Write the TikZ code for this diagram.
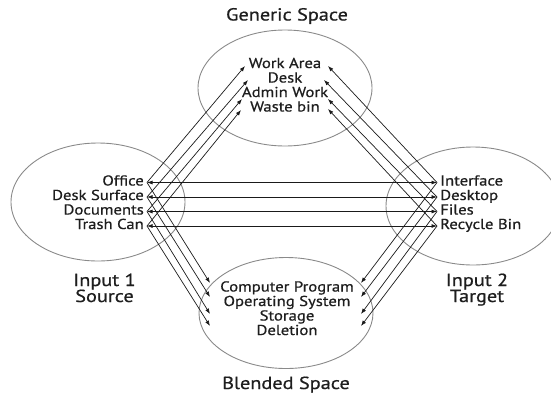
\documentclass[tikz,border=0pt]{standalone}
\usepackage{fontspec}
\setmainfont{PT Sans}[FakeStretch=1.16,FakeBold=0.7]
\usetikzlibrary{arrows.meta}

\definecolor{ink}{HTML}{1E1E1E}
\definecolor{wire}{HTML}{1A1A1A}
\definecolor{rim}{HTML}{8A8A8A}

\begin{document}
\begin{tikzpicture}[x=1pt,y=-1pt,
  space/.style={draw=rim,line width=0.9pt},
  item/.style={text=ink,inner ysep=0pt,inner xsep=3pt,text height=0.7em,text depth=0.1em,
               font=\fontsize{14.4}{14.4}\selectfont},
  mid/.style={text=ink,inner sep=0pt,anchor=base,font=\fontsize{14.4}{14.4}\selectfont},
  head/.style={text=ink,inner sep=0pt,anchor=base,font=\fontsize{17.5}{17.5}\selectfont},
  map/.style={draw=wire,line width=0.7pt,-{Latex[length=5.5pt,width=4pt]}},
  both/.style={draw=wire,line width=0.7pt,{Latex[length=5.5pt,width=4pt]}-{Latex[length=5.5pt,width=4pt]}}]

\useasboundingbox (0,0) rectangle (551,394);
\clip (0,0) rectangle (551,394);

% the four mental spaces
\draw[space] (285,88) ellipse [x radius=87,y radius=58];
\draw[space] (98,202) ellipse [x radius=87,y radius=59];
\draw[space] (473,206) ellipse [x radius=87,y radius=59];
\draw[space] (286,313) ellipse [x radius=87,y radius=55.5];

% space titles
\node[head] (generic) at (287,20.5) {Generic Space};
\node[head] (in1) at (104.5,286) {Input 1};
\node[head] (src) at (104.5,302) {Source};
\node[head] (in2) at (477,286) {Input 2};
\node[head] (tgt) at (477,302) {Target};
\node[head] (blend) at (286,389) {Blended Space};

% input 1 (source)
\node[item,anchor=east] (office) at (147,182.5) {Office};
\node[item,anchor=east] (desksurf) at (147,197) {Desk Surface};
\node[item,anchor=east] (docs) at (147,211.5) {Documents};
\node[item,anchor=east] (trash) at (147,226) {Trash Can};

% input 2 (target)
\node[item,anchor=west] (iface) at (437,182.5) {Interface};
\node[item,anchor=west] (desktop) at (437,197) {Desktop};
\node[item,anchor=west] (files) at (437,211.5) {Files};
\node[item,anchor=west] (recycle) at (437,226) {Recycle Bin};

% generic space
\node[mid] (workarea) at (285,68) {Work Area};
\node[mid] (desk) at (285,82.5) {Desk};
\node[mid] (admin) at (285,97) {Admin Work};
\node[mid] (waste) at (285,111.5) {Waste bin};

% blended space
\node[mid] (program) at (287,291.5) {Computer Program};
\node[mid] (opsys) at (287,306) {Operating System};
\node[mid] (storage) at (287,320.5) {Storage};
\node[mid] (deletion) at (287,335) {Deletion};

% arrow ends beside the generic and blended entries
\coordinate (workarea-l) at (245,66);
\coordinate (desk-l) at (248,80);
\coordinate (admin-l) at (242,99);
\coordinate (waste-l) at (241,110);
\coordinate (workarea-r) at (328,66);
\coordinate (desk-r) at (324,80);
\coordinate (admin-r) at (328,99);
\coordinate (waste-r) at (328,109);
\coordinate (program-l) at (210,283);
\coordinate (opsys-l) at (210,297);
\coordinate (storage-l) at (210,314);
\coordinate (deletion-l) at (210,326);
\coordinate (program-r) at (361,283);
\coordinate (opsys-r) at (361,297);
\coordinate (storage-r) at (361,314);
\coordinate (deletion-r) at (361,326);

% cross-space mappings
\draw[both] (office.east) -- (iface.west);
\draw[both] (desksurf.east) -- (desktop.west);
\draw[both] (docs.east) -- (files.west);
\draw[both] (trash.east) -- (recycle.west);

% source to generic and blended
\draw[map] (office.east) -- (workarea-l);
\draw[map] (desksurf.east) -- (desk-l);
\draw[map] (docs.east) -- (admin-l);
\draw[map] (trash.east) -- (waste-l);
\draw[map] (office.east) -- (program-l);
\draw[map] (desksurf.east) -- (opsys-l);
\draw[map] (docs.east) -- (storage-l);
\draw[map] (trash.east) -- (deletion-l);

% target to generic and blended
\draw[map] (iface.west) -- (workarea-r);
\draw[map] (desktop.west) -- (desk-r);
\draw[map] (files.west) -- (admin-r);
\draw[map] (recycle.west) -- (waste-r);
\draw[map] (iface.west) -- (program-r);
\draw[map] (desktop.west) -- (opsys-r);
\draw[map] (files.west) -- (storage-r);
\draw[map] (recycle.west) -- (deletion-r);
\end{tikzpicture}
\end{document}
